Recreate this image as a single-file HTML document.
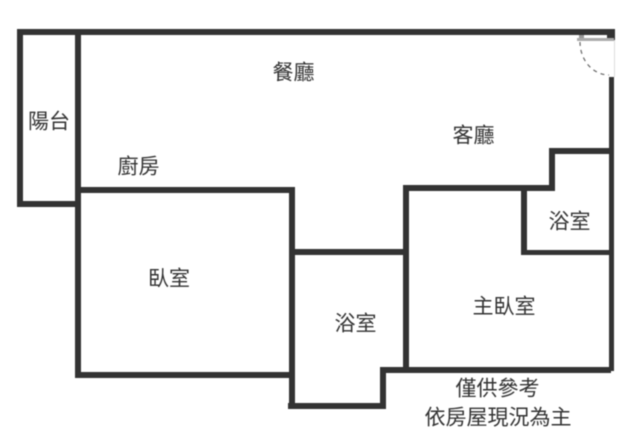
<!DOCTYPE html>
<html><head><meta charset="utf-8"><style>
html,body{margin:0;padding:0;background:#fff;width:640px;height:439px;overflow:hidden}
svg{display:block;filter:blur(.4px)}
text{font-family:"Liberation Sans","Noto Sans CJK TC",sans-serif;font-size:21px;fill:#333;text-anchor:middle}
</style></head><body>
<svg width="640" height="439" viewBox="0 0 640 439" xmlns="http://www.w3.org/2000/svg">
<rect width="640" height="439" fill="#fff"/>
<g fill="#333">
<rect x="17" y="29" width="598" height="6"/>
<rect x="17" y="29" width="6" height="178"/>
<rect x="17" y="201" width="58" height="6"/>
<rect x="75" y="29" width="6" height="349"/>
<rect x="81" y="187" width="214" height="6"/>
<rect x="289" y="187" width="6" height="222"/>
<rect x="295" y="249" width="110" height="6"/>
<rect x="403" y="185" width="6" height="186"/>
<rect x="403" y="185" width="152" height="6"/>
<rect x="549" y="148" width="6" height="43"/>
<rect x="549" y="148" width="61" height="6"/>
<rect x="609" y="77" width="5" height="294"/>
<rect x="521" y="190" width="6" height="65"/>
<rect x="521" y="250" width="89" height="5"/>
<rect x="380" y="367" width="231" height="6"/>
<rect x="380" y="367" width="6" height="42"/>
<rect x="288" y="403" width="98" height="6"/>
<rect x="75" y="372" width="220" height="6"/>
<rect x="607" y="34" width="8" height="6"/>
</g>
<rect x="577" y="38" width="37" height="3" fill="#aaa"/>
<rect x="579" y="35" width="5" height="3" fill="#999"/>
<rect x="614" y="40" width="1" height="37" fill="#ddd"/>
<path d="M580 42 A29 33 0 0 0 609 75" fill="none" stroke="#666" stroke-width="1.2" stroke-dasharray="4 4"/>
<text x="293.5" y="79.5">餐廳</text>
<text x="473.5" y="142.5">客廳</text>
<text x="138.5" y="173.5">廚房</text>
<text x="49" y="128.5">陽台</text>
<text x="169" y="285.5">臥室</text>
<text x="355.5" y="330.5">浴室</text>
<text x="504" y="313.5">主臥室</text>
<text x="569.5" y="228.5">浴室</text>
<text x="497.5" y="395.5">僅供參考</text>
<text x="498" y="424.5">依房屋現況為主</text>
</svg>
</body></html>
